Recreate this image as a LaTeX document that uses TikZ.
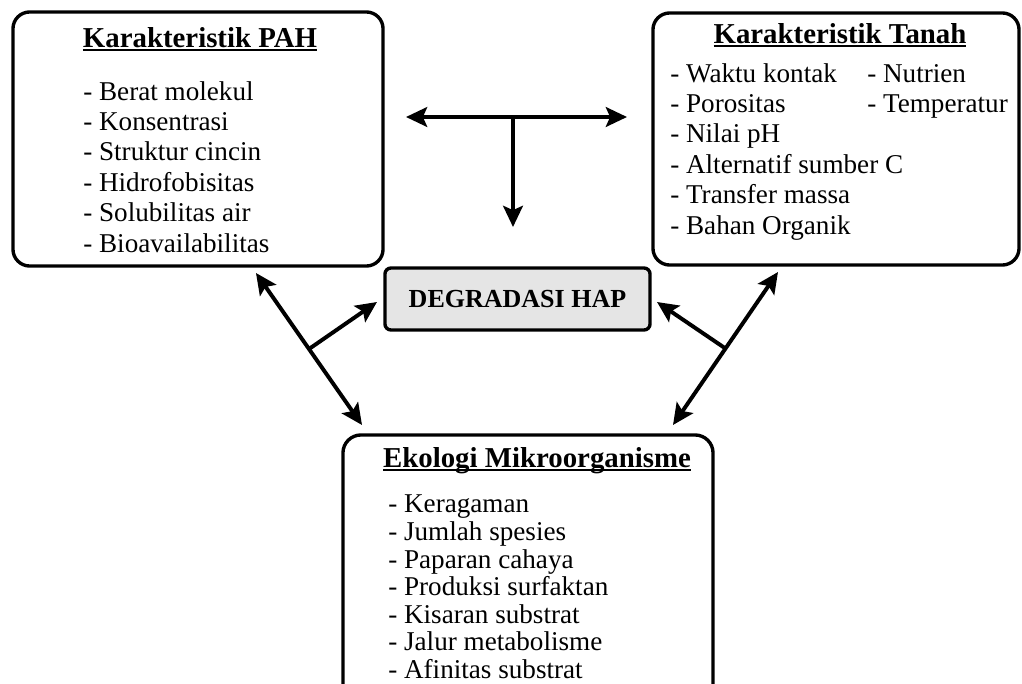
\documentclass[tikz,border=0pt]{standalone}
\usepackage{fontspec}
\setmainfont{Liberation Serif}
\usetikzlibrary{arrows.meta, positioning, calc}

\newsavebox\judulbox
\newcommand{\garisjudul}[1]{\sbox\judulbox{\bfseries #1}\rlap{\rule[-3pt]{\wd\judulbox}{1.4pt}}\usebox\judulbox}

\begin{document}
\begin{tikzpicture}[x=0.025cm, y=-0.025cm,
    kotak/.style={draw, line width=2.4pt, rounded corners=0.42cm, inner sep=0pt},
    isi/.style={align=left, anchor=base west, inner sep=0pt, font=\fontsize{19.3}{21.6}\selectfont},
    judul/.style={anchor=base, inner sep=0pt, font=\fontsize{20.5}{24}\selectfont},
    panah/.style={line width=2.8pt, -{Stealth[length=15pt, width=14pt, inset=3pt]}},
    duapanah/.style={line width=2.8pt, {Stealth[length=15pt, width=14pt, inset=3pt]}-{Stealth[length=15pt, width=14pt, inset=3pt]}}]
    \clip (0,0) rectangle (1022,684);

    % kotak-kotak (isi diletakkan pada baris terakhir)
    \node[kotak, minimum width=9.25cm, minimum height=6.35cm] (pah) at (198,139) {};
    \node[judul] (pahjudul) at (200,47) {\garisjudul{Karakteristik PAH}};
    \node[isi] (pahisi) at (83,252) {- Berat molekul\\- Konsentrasi\\- Struktur cincin\\- Hidrofobisitas\\- Solubilitas air\\- Bioavailabilitas};

    \node[kotak, minimum width=9.15cm, minimum height=6.3cm] (tanah) at (836,139) {};
    \node[judul] (tanahjudul) at (840,43) {\garisjudul{Karakteristik Tanah}};
    \node[isi] (tanahisi) at (670,234) {- Waktu kontak\\- Porositas\\- Nilai pH\\- Alternatif sumber C\\- Transfer massa\\- Bahan Organik};
    \node[isi] (tanahisi2) at (867,112.4) {- Nutrien\\- Temperatur};

    \node[kotak, fill=gray!20, rounded corners=0.15cm, minimum width=6.625cm, minimum height=1.55cm, font=\fontsize{18.5}{22}\selectfont\bfseries] (hap) at (517.5,299) {DEGRADASI HAP};

    \node[kotak, rounded corners=0.45cm, minimum width=9.25cm, minimum height=6.875cm] (eko) at (528,572.5) {};
    \node[judul] (ekojudul) at (537,467) {\garisjudul{Ekologi Mikroorganisme}};
    \node[isi, font=\fontsize{19.3}{19.6}\selectfont] (ekoisi) at (388,678.3) {- Keragaman\\- Jumlah spesies\\- Paparan cahaya\\- Produksi surfaktan\\- Kisaran substrat\\- Jalur metabolisme\\- Afinitas substrat};

    % panah T di atas
    \coordinate (tkiri) at (406,117);
    \coordinate (tkanan) at (627,117);
    \coordinate (tbawah) at (513,227);
    \draw[duapanah] (tkiri) -- (tkanan);
    \draw[panah] (tkiri -| tbawah) -- (tbawah);

    % panah kiri
    \coordinate (kiriatas) at (256,273);
    \coordinate (kiribawah) at (362,425);
    \coordinate (kiriujung) at (377,302);
    \draw[duapanah] (kiriatas) -- (kiribawah);
    \draw[panah] ($(kiriatas)!0.5!(kiribawah)$) -- (kiriujung);

    % panah kanan
    \coordinate (kananatas) at (778,272);
    \coordinate (kananbawah) at (673,425);
    \coordinate (kananujung) at (657,302);
    \draw[duapanah] (kananatas) -- (kananbawah);
    \draw[panah] ($(kananatas)!0.5!(kananbawah)$) -- (kananujung);
\end{tikzpicture}
\end{document}
